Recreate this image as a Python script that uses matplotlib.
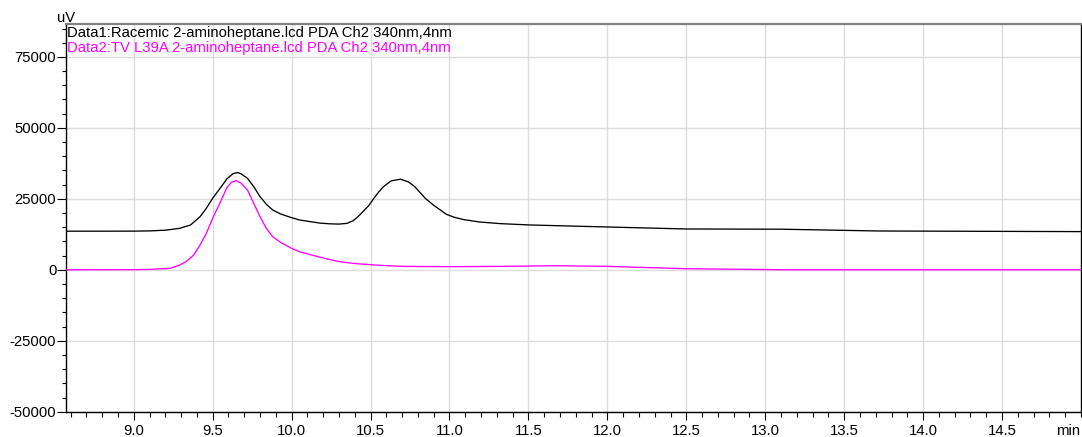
import numpy as np
import matplotlib
matplotlib.use("Agg")
import matplotlib.pyplot as plt
from matplotlib.ticker import FixedLocator, FuncFormatter

# Retention time (min) and detector response (uV) for each run
data1_time = [8.57, 8.80, 9.00, 9.10, 9.20, 9.29, 9.36, 9.42, 9.46, 9.50,
              9.55, 9.59, 9.63, 9.66, 9.68, 9.72, 9.76, 9.80, 9.84, 9.88,
              9.93, 10.00, 10.05, 10.12, 10.18, 10.24, 10.30, 10.35, 10.39, 10.42,
              10.45, 10.49, 10.52, 10.55, 10.58, 10.63, 10.69, 10.74, 10.78, 10.81,
              10.85, 10.90, 10.98, 11.03, 11.09, 11.19, 11.32, 11.51, 12.00, 12.50,
              13.10, 13.72, 14.35, 15.00]
data1_uv = [13600, 13600, 13620, 13700, 13950, 14600, 15780, 18700, 21680, 25200,
            28950, 32030, 33900, 34250, 33790, 32270, 29300, 25780, 23090, 21080,
            19670, 18360, 17550, 16950, 16450, 16200, 16100, 16350, 17300, 18700,
            20380, 22700, 25100, 27300, 29200, 31330, 31920, 30970, 29300, 27440,
            25000, 22740, 19560, 18500, 17690, 16840, 16270, 15790, 15080, 14380,
            14300, 13670, 13560, 13450]

data2_time = [8.57, 9.00, 9.10, 9.23, 9.29, 9.33, 9.38, 9.42, 9.46, 9.50,
              9.55, 9.59, 9.62, 9.65, 9.68, 9.72, 9.76, 9.80, 9.84, 9.88,
              9.93, 10.00, 10.05, 10.12, 10.18, 10.24, 10.31, 10.40, 10.50, 10.60,
              10.71, 11.02, 11.32, 11.68, 12.00, 12.50, 13.15, 15.00]
data2_uv = [0, 50, 140, 500, 1660, 2830, 5200, 8720, 12850, 18150,
            24010, 28950, 30860, 31430, 30500, 28140, 23450, 18700, 14600, 11650,
            9670, 7550, 6360, 5300, 4450, 3600, 2800, 2200, 1800, 1450,
            1200, 1100, 1200, 1440, 1200, 380, 0, 0]

data1_label = "Data1:Racemic 2-aminoheptane.lcd PDA Ch2 340nm,4nm"
data2_label = "Data2:TV L39A 2-aminoheptane.lcd PDA Ch2 340nm,4nm"

x_major = [9.0, 9.5, 10.0, 10.5, 11.0, 11.5, 12.0, 12.5, 13.0, 13.5, 14.0, 14.5]
y_major = [-50000, -25000, 0, 25000, 50000, 75000]

plt.rcParams['font.family'] = ['Liberation Sans', 'DejaVu Sans']
FS = 10.7

fig = plt.figure(figsize=(10.82, 4.37), dpi=100)
ax = fig.add_axes([66 / 1082, 1 - 411.7 / 437, (1081 - 66) / 1082, (411.7 - 24) / 437])

ax.plot(data1_time, data1_uv, color="black", lw=0.95, zorder=3,
        solid_joinstyle="round")
ax.plot(data2_time, data2_uv, color="#ff00ff", lw=0.95, zorder=3,
        solid_joinstyle="round")

ax.set_xlim(8.571, 15.0)
ax.set_ylim(-50000, 86600)

ax.xaxis.set_major_locator(FixedLocator(x_major))
ax.xaxis.set_minor_locator(FixedLocator(np.round(np.arange(8.6, 15.01, 0.1), 2)))
ax.xaxis.set_major_formatter(FuncFormatter(lambda v, p: f"{v:.1f}"))
ax.yaxis.set_major_locator(FixedLocator(y_major))
ax.yaxis.set_minor_locator(FixedLocator(np.arange(-50000, 86000, 5000)))
ax.yaxis.set_major_formatter(FuncFormatter(lambda v, p: f"{int(v)}"))

# tick lengths in points (100 dpi: 1 px = 0.72 pt)
ax.tick_params(axis="both", which="major", labelsize=FS, color="black", width=0.8)
ax.tick_params(axis="x", which="major", length=5.8, pad=2.8)
ax.tick_params(axis="x", which="minor", length=3.6, width=0.8)
ax.tick_params(axis="y", which="major", length=6.2, pad=0.8)
ax.tick_params(axis="y", which="minor", length=3.0, width=0.8)

ax.grid(True, which="major", color="#dcdcdc", lw=1.0, zorder=0)

for side in ("left", "bottom", "right"):
    ax.spines[side].set_color("black")
    ax.spines[side].set_linewidth(1.0)
ax.spines["top"].set_color("#808080")
ax.spines["top"].set_linewidth(1.6)

ax.text(0.001, 0.995, data1_label, transform=ax.transAxes, ha="left", va="top",
        fontsize=FS, color="black")
ax.text(0.001, 0.957, data2_label, transform=ax.transAxes, ha="left", va="top",
        fontsize=FS, color="#ff00ff")

fig.text(66.5 / 1082, 1 - 21.5 / 437, "uV", ha="center", va="baseline", fontsize=FS)
fig.text(1080 / 1082, 1 - 435 / 437, "min", ha="right", va="baseline", fontsize=FS)

fig.savefig("out.png", dpi=100)
